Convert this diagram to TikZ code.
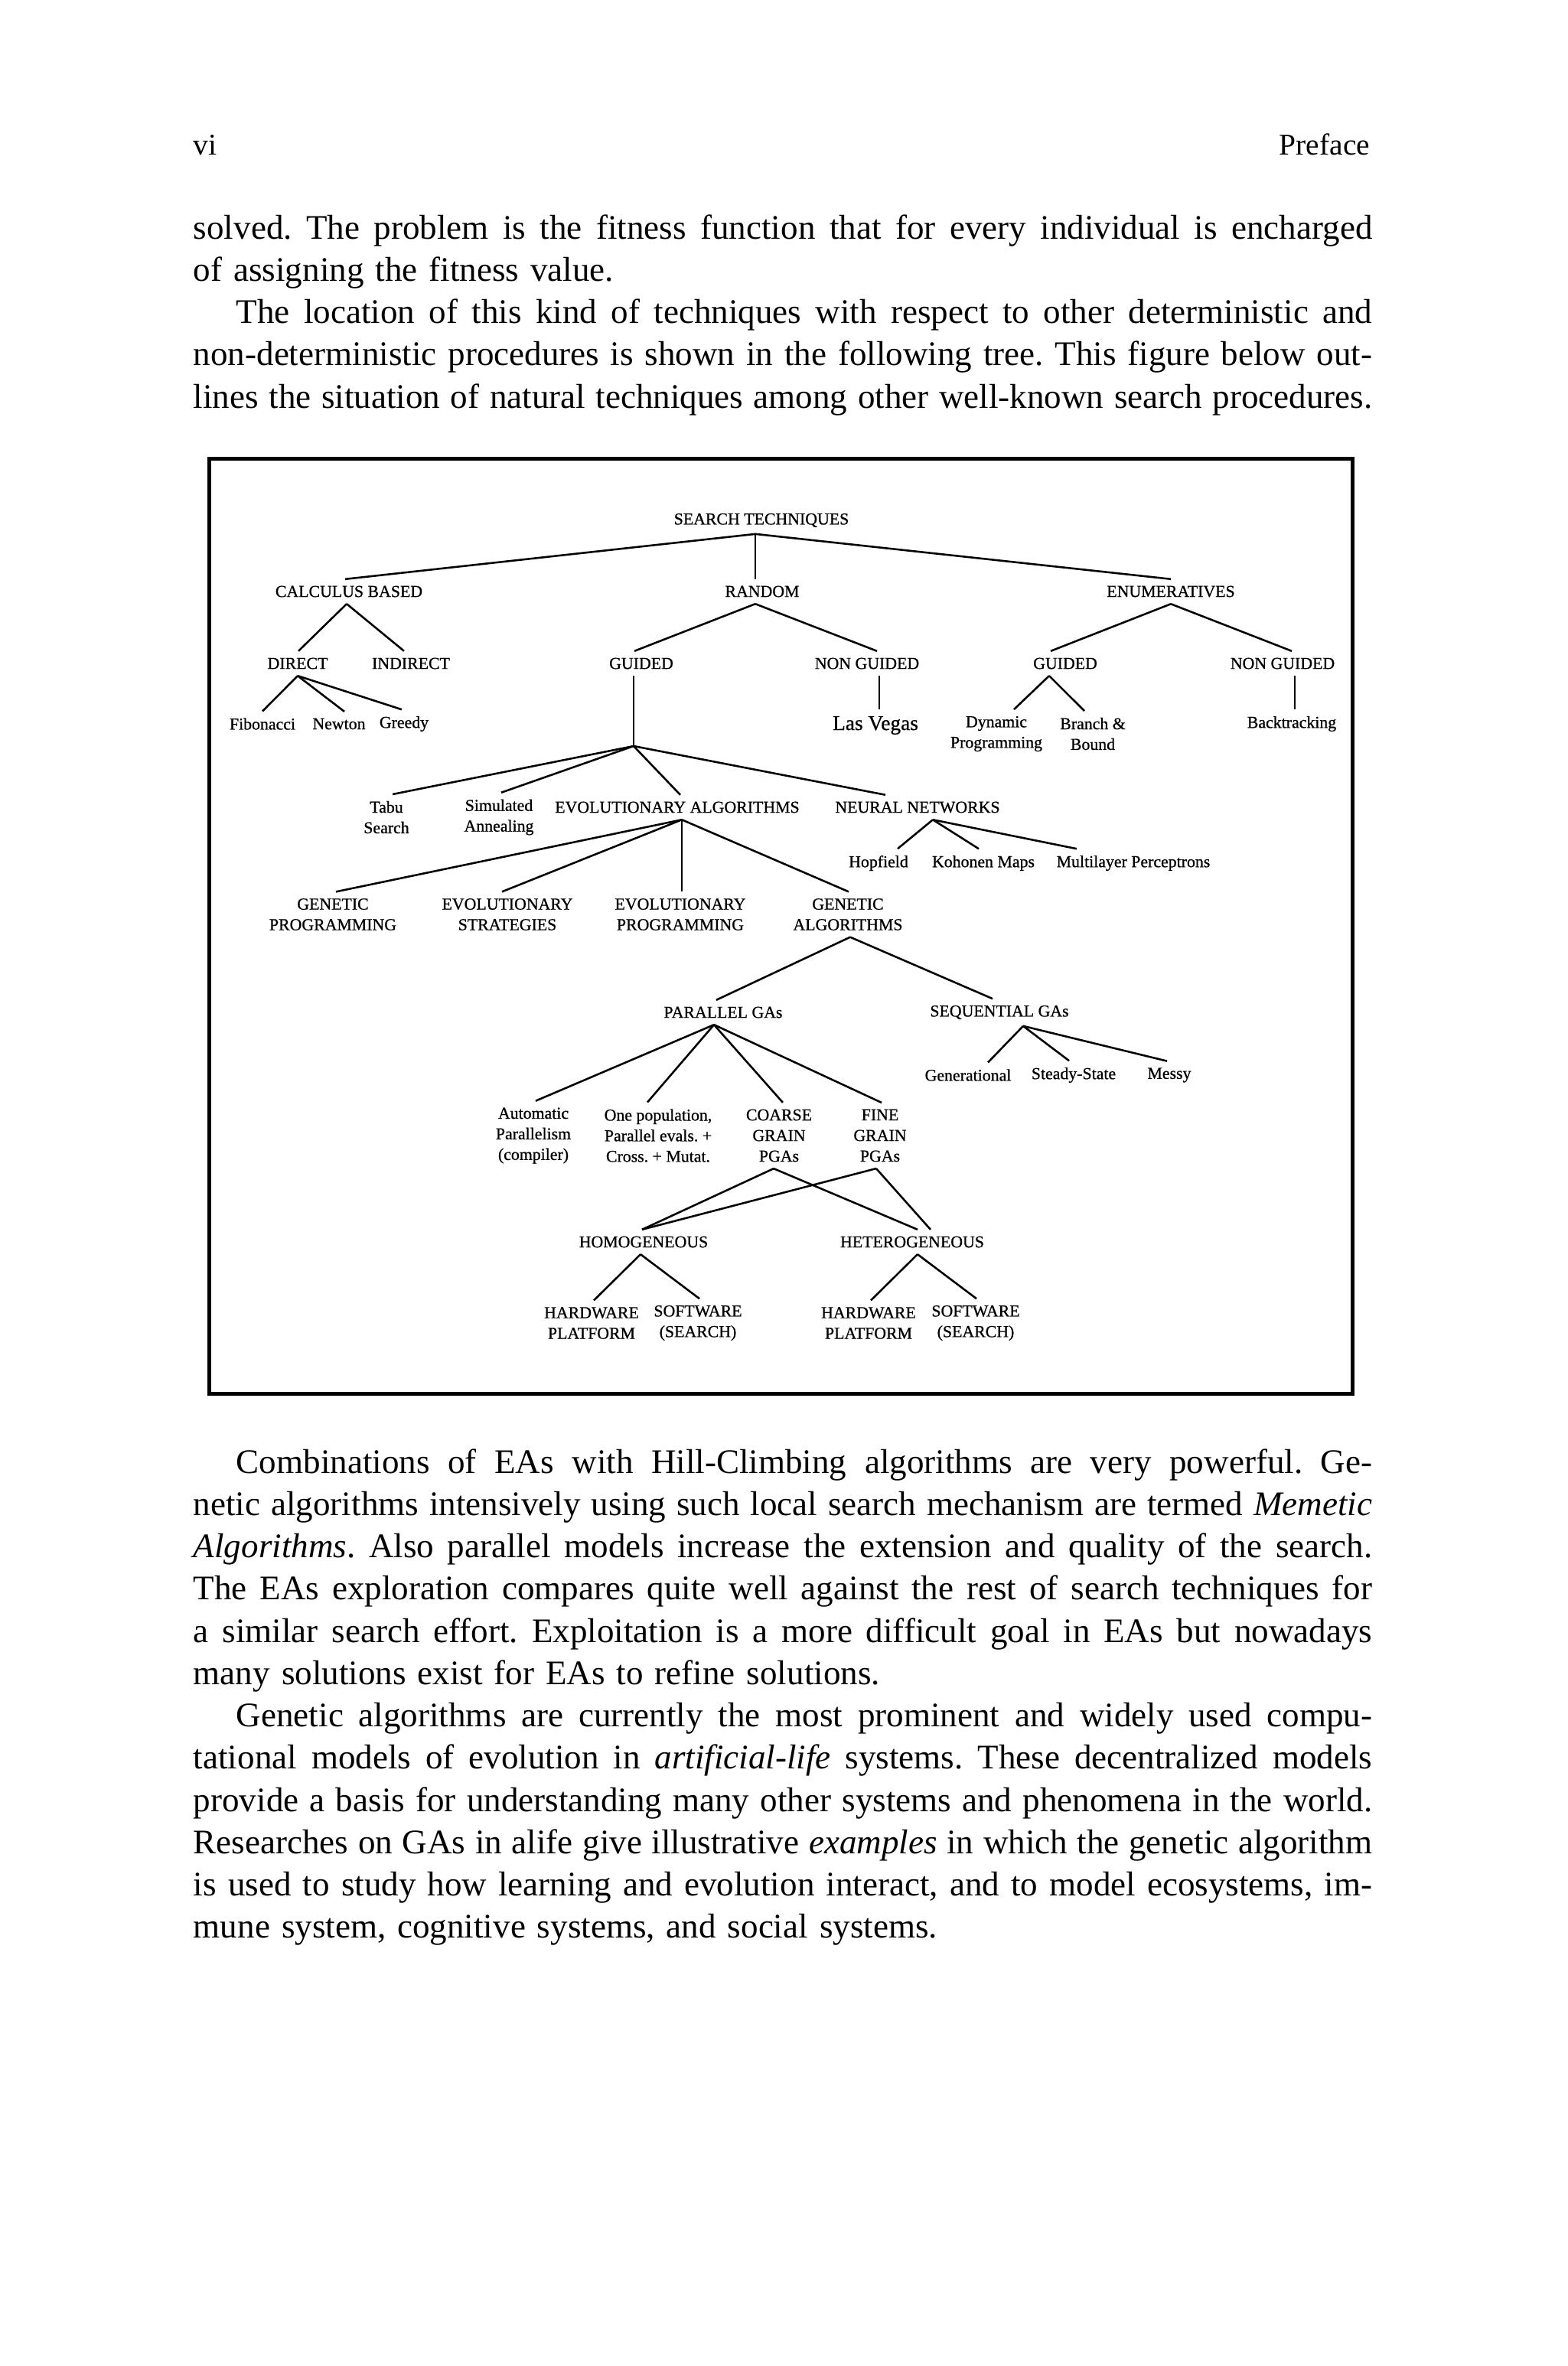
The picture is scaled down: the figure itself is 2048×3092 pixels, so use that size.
\documentclass[tikz,border=0pt]{standalone}
\usepackage{fontspec}
\setmainfont{Liberation Serif}
\newfontfamily\treefam[FakeBold=0.8]{Liberation Serif}
\usetikzlibrary{calc}

\newcommand{\treefont}{\treefam\fontsize{4.7}{5.8}\selectfont}
\newcommand{\bodyfont}{\fontsize{9.7}{11.9}\selectfont}
\newcommand{\linew}{116.6mm}
\newcommand{\parind}{4.24mm}
% gesetzte Zeilen: Blocksatz (Woerter einzeln verteilt) bzw. linksbuendig
\def\jword#1 #2\jend{#1\if\relax\detokenize{#2}\relax\else\hskip 0.25em plus 1fil minus 0.1em\relax\jword#2\jend\fi}
\newcommand{\jline}[1]{\hbox to \linew{\jword#1 \jend}\par}
\newcommand{\lline}[1]{\hbox{#1}\par}
\newcommand{\branch}[4]{\draw[treeline] ($(#1.south)+(#2,0)$) -- ($(#3.north)+(#4,0)$);}

\begin{document}
\frenchspacing
\begin{tikzpicture}[x=0.0757mm,y=-0.0757mm,
  bodytext/.style={anchor=base west, inner sep=0pt, text width=\linew, font=\bodyfont},
  runhead/.style={inner sep=0pt, font=\fontsize{8.5}{10}\selectfont},
  lbl/.style={inner xsep=0pt, inner ysep=0.6mm, align=center, font=\treefont},
  treeline/.style={line width=0.55pt}]

% ---------- Seite (Pixelraster der Vorlage) ----------
\useasboundingbox (0,0) rectangle (2048,3092);

% ===================
% Kopfzeile
% ===================
\node[runhead, anchor=base west] (pageno) at (252,202) {vi};
\node[runhead, anchor=base east] (runtitle) at (1791,202) {Preface};

% ===================
% Text oben
% ===================
\node[bodytext] (textabove) at (252,312) {%
\jline{solved. The problem is the fitness function that for every individual is encharged}
\lline{of assigning the fitness value.}
\jline{\hspace*{\parind}The location of this kind of techniques with respect to other deterministic and}
\jline{non-deterministic procedures is shown in the following tree. This figure below out-}
\jline{lines the situation of natural techniques among other well-known search procedures.}};

% ===================
% Abbildung: Baum der Suchverfahren
% ===================
\draw[line width=0.34mm] (273.5,599.5) rectangle (1767.5,1821.5);

% Ebene 0 und 1
\node[lbl] (search) at (995,680) {SEARCH TECHNIQUES};
\node[lbl] (calculus) at (456,773) {CALCULUS BASED};
\node[lbl] (random) at (996,773) {RANDOM};
\node[lbl] (enumer) at (1530,773) {ENUMERATIVES};

% Ebene 2
\node[lbl] (direct) at (389,867) {DIRECT};
\node[lbl] (indirect) at (537,867) {INDIRECT};
\node[lbl] (rguided) at (838,867) {GUIDED};
\node[lbl] (rnonguided) at (1133,867) {NON GUIDED};
\node[lbl] (eguided) at (1392,867) {GUIDED};
\node[lbl] (enonguided) at (1676,867) {NON GUIDED};

% Ebene 3
\node[lbl] (fibonacci) at (343,946) {Fibonacci};
\node[lbl] (newton) at (443,946) {Newton};
\node[lbl] (greedy) at (528,946) {Greedy};
\node[lbl, font=\treefam\fontsize{5.9}{7}\selectfont] (lasvegas) at (1144,948) {Las Vegas};
\node[lbl] (dynprog) at (1302,959) {Dynamic\\Programming};
\node[lbl] (branchbound) at (1428,959) {Branch \&\\Bound};
\node[lbl] (backtrack) at (1688,946) {Backtracking};

% Ebene 4
\coordinate (gjoin) at (828,975);
\node[lbl] (tabu) at (505,1068) {Tabu\\Search};
\node[lbl] (simann) at (652,1068) {Simulated\\Annealing};
\node[lbl] (evalg) at (885,1055) {EVOLUTIONARY ALGORITHMS};
\node[lbl] (neural) at (1199,1055) {NEURAL NETWORKS};
\node[lbl] (hopfield) at (1148,1128) {Hopfield};
\node[lbl] (kohonen) at (1285,1128) {Kohonen Maps};
\node[lbl] (multilayer) at (1481,1128) {Multilayer Perceptrons};

% Ebene 5
\node[lbl] (genprog) at (435,1195) {GENETIC\\PROGRAMMING};
\node[lbl] (evstrat) at (663,1195) {EVOLUTIONARY\\STRATEGIES};
\node[lbl] (evprog) at (889,1195) {EVOLUTIONARY\\PROGRAMMING};
\node[lbl] (genalg) at (1108,1195) {GENETIC\\ALGORITHMS};

% Ebene 6
\node[lbl] (parallel) at (945,1323) {PARALLEL GAs};
\node[lbl] (sequential) at (1306,1323) {SEQUENTIAL GAs};
\node[lbl] (generational) at (1265,1405) {Generational};
\node[lbl] (steady) at (1403,1405) {Steady-State};
\node[lbl] (messy) at (1528,1405) {Messy};
\node[lbl] (autopar) at (697,1484) {Automatic\\Parallelism\\(compiler)};
\node[lbl] (onepop) at (860,1484) {One population,\\Parallel evals. +\\Cross. + Mutat.};
\node[lbl] (coarse) at (1018,1484) {COARSE\\GRAIN\\PGAs};
\node[lbl] (fine) at (1150,1484) {FINE\\GRAIN\\PGAs};

% Ebene 7
\node[lbl] (homog) at (841,1623) {HOMOGENEOUS};
\node[lbl] (heterog) at (1192,1623) {HETEROGENEOUS};
\node[lbl] (hwhomog) at (773,1729) {HARDWARE\\PLATFORM};
\node[lbl] (swhomog) at (912,1729) {SOFTWARE\\(SEARCH)};
\node[lbl] (hwheterog) at (1135,1729) {HARDWARE\\PLATFORM};
\node[lbl] (swheterog) at (1275,1729) {SOFTWARE\\(SEARCH)};

% ---------- Verbindungen ----------
\branch{search}{-8}{calculus}{-5}
\branch{search}{-8}{random}{-9}
\branch{search}{-8}{enumer}{0}
\branch{calculus}{-3}{direct}{1}
\branch{calculus}{-3}{indirect}{-9}
\branch{random}{-9}{rguided}{-9}
\branch{random}{-9}{rnonguided}{13}
\branch{enumer}{0}{eguided}{-19}
\branch{enumer}{0}{enonguided}{12}
\branch{direct}{0}{fibonacci}{0}
\branch{direct}{0}{newton}{7}
\branch{direct}{0}{greedy}{-3}
\branch{rnonguided}{16}{lasvegas}{5}
\branch{eguided}{-21}{dynprog}{23}
\branch{eguided}{-21}{branchbound}{-11}
\branch{enonguided}{16}{backtrack}{4}

% GUIDED -> Verzweigungspunkt
\draw[treeline] ($(rguided.south)+(-10,0)$) -- (gjoin);
\draw[treeline] (gjoin) -- ($(tabu.north)+(8,0)$);
\draw[treeline] (gjoin) -- ($(simann.north)+(3,0)$);
\draw[treeline] (gjoin) -- ($(evalg.north)+(4,0)$);
\draw[treeline] (gjoin) -- ($(neural.north)+(-42,0)$);

\branch{evalg}{6}{genprog}{4}
\branch{evalg}{6}{evstrat}{-7}
\branch{evalg}{6}{evprog}{2}
\branch{evalg}{6}{genalg}{1}
\branch{neural}{20}{hopfield}{25}
\branch{neural}{20}{kohonen}{-6}
\branch{neural}{20}{multilayer}{-74}
\branch{genalg}{3}{parallel}{-9}
\branch{genalg}{3}{sequential}{-9}
\branch{parallel}{-12}{autopar}{3}
\branch{parallel}{-12}{onepop}{-14}
\branch{parallel}{-12}{coarse}{5}
\branch{parallel}{-12}{fine}{2}
\branch{sequential}{31}{generational}{26}
\branch{sequential}{31}{steady}{-6}
\branch{sequential}{31}{messy}{-3}
\branch{coarse}{-7}{homog}{-2}
\branch{coarse}{-7}{heterog}{7}
\branch{fine}{-5}{homog}{-2}
\branch{fine}{-5}{heterog}{24}
\branch{homog}{-4}{hwhomog}{3}
\branch{homog}{-4}{swhomog}{2}
\branch{heterog}{7}{hwheterog}{3}
\branch{heterog}{7}{swheterog}{1}

% ===================
% Text unten
% ===================
\node[bodytext] (textbelow) at (252,1925) {%
\jline{\hspace*{\parind}Combinations of EAs with Hill-Climbing algorithms are very powerful. Ge-}
\jline{netic algorithms intensively using such local search mechanism are termed \emph{Memetic}}
\jline{\emph{Algorithms}. Also parallel models increase the extension and quality of the search.}
\jline{The EAs exploration compares quite well against the rest of search techniques for}
\jline{a similar search effort. Exploitation is a more difficult goal in EAs but nowadays}
\lline{many solutions exist for EAs to refine solutions.}
\jline{\hspace*{\parind}Genetic algorithms are currently the most prominent and widely used compu-}
\jline{tational models of evolution in \emph{artificial-life} systems. These decentralized models}
\jline{provide a basis for understanding many other systems and phenomena in the world.}
\jline{Researches on GAs in alife give illustrative \emph{examples} in which the genetic algorithm}
\jline{is used to study how learning and evolution interact, and to model ecosystems, im-}
\lline{mune system, cognitive systems, and social systems.}};

\end{tikzpicture}
\end{document}
